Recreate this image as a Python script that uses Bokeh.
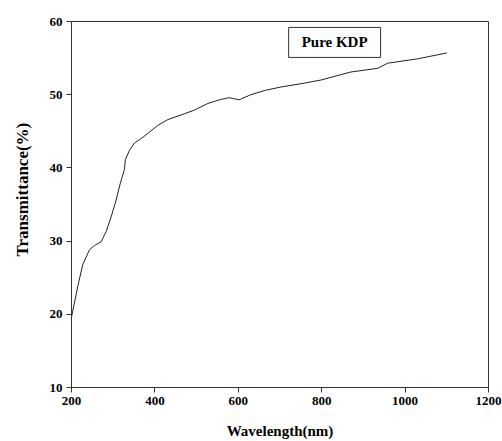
from bokeh.plotting import figure
from bokeh.models import Label, Title, Range1d, FixedTicker
from bokeh.embed import file_html
from bokeh.resources import INLINE

wavelength = [200, 215, 227, 243, 255, 271, 283, 295, 307, 317, 327, 329, 339, 351,
              367, 387, 407, 431, 471, 495, 527, 555, 578, 602, 630, 665, 702, 750,
              798, 870, 934, 958, 1030, 1100]
transmittance = [19.6, 23.8, 26.8, 28.8, 29.4, 29.9, 31.3, 33.3, 35.6, 37.9, 39.8, 41.1,
                 42.4, 43.4, 44.0, 44.9, 45.8, 46.6, 47.4, 47.9, 48.8, 49.3, 49.6, 49.3,
                 50.0, 50.6, 51.05, 51.5, 52.0, 53.1, 53.6, 54.3, 54.9, 55.7]
x_ticks = [200, 400, 600, 800, 1000, 1200]
y_ticks = [10, 20, 30, 40, 50, 60]
legend_text = "Pure KDP"
x_label = "Wavelength(nm)"
y_label = "Transmittance(%)"

p = figure(width=502, height=441, output_backend="svg", toolbar_location=None,
           x_range=Range1d(200, 1200), y_range=Range1d(10, 60),
           min_border_left=70, min_border_right=14, min_border_top=21, min_border_bottom=53)
p.background_fill_color = "white"
p.border_fill_color = "white"
p.outline_line_color = "#333333"
p.outline_line_width = 1
p.xgrid.visible = False
p.ygrid.visible = False

p.line(wavelength, transmittance, line_color="#222222", line_width=1)

tick_font = "Liberation Sans Narrow"
for ax, ticks in ((p.xaxis, x_ticks), (p.yaxis, y_ticks)):
    ax.ticker = FixedTicker(ticks=ticks)
    ax.major_tick_out = 5
    ax.major_tick_in = 0
    ax.minor_tick_line_color = None
    ax.axis_line_color = "#333333"
    ax.major_tick_line_color = "#333333"
    ax.major_label_text_font = tick_font
    ax.major_label_text_font_style = "bold"
    ax.major_label_text_font_size = "13px"
    ax.major_label_text_color = "black"
    ax.major_label_standoff = 4

p.xaxis.axis_label = x_label
p.xaxis.axis_label_text_font = "Liberation Serif"
p.xaxis.axis_label_text_font_style = "bold"
p.xaxis.axis_label_text_font_size = "15px"
p.xaxis.axis_label_text_color = "black"
p.xaxis.axis_label_standoff = 15

t = Title(text=y_label, align="left", offset=131, standoff=25, vertical_align="top",
          text_font="Liberation Serif", text_font_style="bold",
          text_font_size="17px", text_color="black")
p.add_layout(t, "left")

lab = Label(x=831, y=57.14, text=legend_text, text_align="center", text_baseline="middle",
            text_font="Liberation Serif", text_font_style="bold", text_font_size="15px",
            text_color="black", border_line_color="#333333", border_line_width=1,
            background_fill_color="white",
            padding=dict(left=13, right=13, top=7, bottom=7))
p.add_layout(lab)

open("out.html", "w").write(file_html(p, INLINE))
